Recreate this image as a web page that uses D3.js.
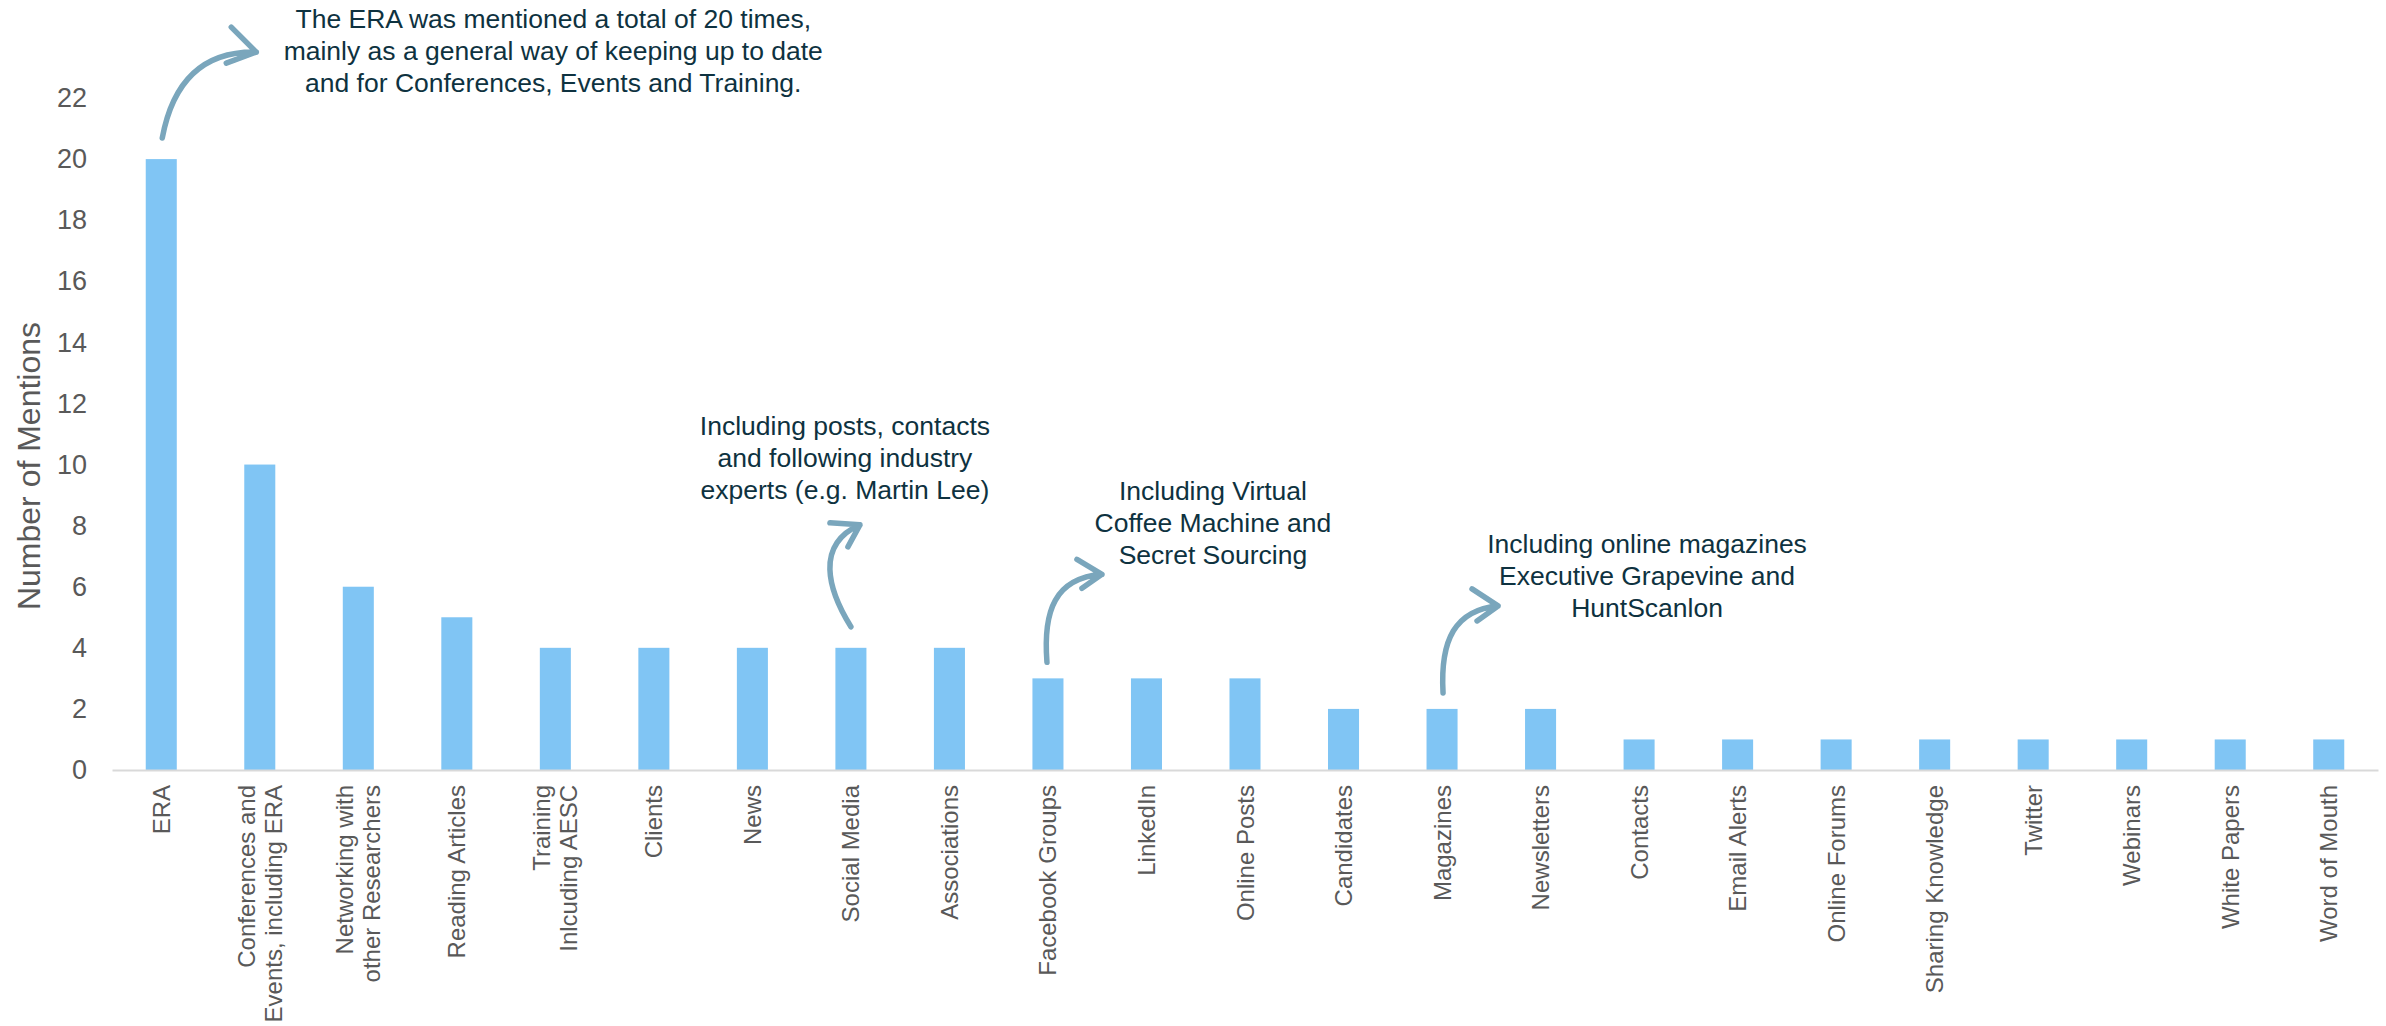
<!DOCTYPE html>
<html>
<head>
<meta charset="utf-8">
<script src="https://cdn.jsdelivr.net/npm/d3@7"></script>
<style>
  html, body { margin: 0; padding: 0; background: #ffffff; }
  svg { display: block; font-family: "Liberation Sans", Arial, sans-serif; }
</style>
</head>
<body>
<svg id="chart" width="2386" height="1026"></svg>
<script>
// Sources of keeping up to date: number of mentions per source
const categories = [
  "ERA",
  "Conferences and\nEvents, including ERA",
  "Networking with\nother Researchers",
  "Reading Articles",
  "Training\nInlcuding AESC",
  "Clients",
  "News",
  "Social Media",
  "Associations",
  "Facebook Groups",
  "LinkedIn",
  "Online Posts",
  "Candidates",
  "Magazines",
  "Newsletters",
  "Contacts",
  "Email Alerts",
  "Online Forums",
  "Sharing Knowledge",
  "Twitter",
  "Webinars",
  "White Papers",
  "Word of Mouth"
];
const mentions = [20, 10, 6, 5, 4, 4, 4, 4, 4, 3, 3, 3, 2, 2, 2, 1, 1, 1, 1, 1, 1, 1, 1];
const yTicks = [0, 2, 4, 6, 8, 10, 12, 14, 16, 18, 20, 22];
const yTitle = "Number of Mentions";

// Callout notes, each tied to one bar
const noteAnchors = ["ERA", "Social Media", "Facebook Groups", "Magazines"];
const noteTexts = [
  ["The ERA was mentioned a total of 20 times,", "mainly as a general way of keeping up to date", "and for Conferences, Events and Training."],
  ["Including posts, contacts", "and following industry", "experts (e.g. Martin Lee)"],
  ["Including Virtual", "Coffee Machine and", "Secret Sourcing"],
  ["Including online magazines", "Executive Grapevine and", "HuntScanlon"]
];

const svg = d3.select("#chart");
const W = 2386, H = 1026;
const m = { left: 112, right: 8, top: 98, bottom: 256 };
const baseY = H - m.bottom; // 770

const x = d3.scaleBand()
  .domain(categories)
  .range([m.left, W - m.right])
  .paddingInner(0.685)
  .paddingOuter(0.3425);

const y = d3.scaleLinear()
  .domain([0, 22])
  .range([baseY, m.top]);

const barColor = "#80c5f4";
const axisText = "#595959";
const noteColor = "#0e3240";
const arrowColor = "#7aa6bc";

// Bars
svg.append("g")
  .selectAll("rect")
  .data(categories)
  .join("rect")
  .attr("x", d => x(d))
  .attr("y", (d, i) => y(mentions[i]))
  .attr("width", x.bandwidth())
  .attr("height", (d, i) => y(0) - y(mentions[i]))
  .attr("fill", barColor);

// Y axis: labels only
const yAxis = svg.append("g")
  .attr("transform", `translate(${m.left - 25},0)`)
  .call(d3.axisLeft(y).tickValues(yTicks).tickSize(0).tickPadding(0));
yAxis.select(".domain").remove();
yAxis.selectAll("text")
  .attr("fill", axisText)
  .attr("font-size", 27)
  .attr("font-family", "'Liberation Sans', Arial, sans-serif");

// Y axis title
svg.append("text")
  .attr("transform", `translate(29,${(y(0) + y(22)) / 2 + 32}) rotate(-90)`)
  .attr("text-anchor", "middle")
  .attr("dominant-baseline", "central")
  .attr("fill", axisText)
  .attr("font-size", 32)
  .text(yTitle);

// X axis: baseline and rotated category labels
const xAxis = svg.append("g")
  .attr("transform", `translate(0,${baseY})`)
  .call(d3.axisBottom(x).tickSize(0).tickSizeOuter(0).tickFormat(""));
xAxis.select(".domain")
  .attr("stroke", "#d9d9d9")
  .attr("stroke-width", 2);

const labelGap = 15;
const lineH = 27;
const xl = svg.append("g");
categories.forEach(c => {
  const lines = c.split("\n");
  const cx = x(c) + x.bandwidth() / 2;
  const t = xl.append("text")
    .attr("transform", `translate(${cx},${baseY + labelGap}) rotate(-90)`)
    .attr("text-anchor", "end")
    .attr("fill", axisText)
    .attr("font-size", 24);
  lines.forEach((ln, k) => {
    t.append("tspan")
      .attr("x", 0)
      .attr("y", (k - (lines.length - 1) / 2) * lineH)
      .attr("dominant-baseline", "central")
      .text(ln);
  });
});

// Note text placement relative to the top of each anchored bar (dx, dy of first baseline)
const noteOffsets = [[392, -131], [-6, -213], [165, -178], [205, -156]];
// Hand-drawn arrow shapes relative to the top centre of each anchored bar:
// start, control 1, control 2, tip, barb A, barb B
const arrowShapes = [
  [[1, -21], [12, -80], [44, -108], [95, -107], [70, -132], [65, -96]],
  [[0, -21], [-23, -58], [-36, -103], [9, -123], [-21, -125], [-3, -101]],
  [[-1, -16], [-5, -68], [7, -100], [54, -104], [29, -119], [34, -90]],
  [[1, -16], [-2, -69], [13, -99], [56, -103], [30, -120], [35, -88]]
];

const notes = svg.append("g");
noteAnchors.forEach((cat, i) => {
  const i0 = categories.indexOf(cat);
  const ax = x(cat) + x.bandwidth() / 2;
  const ay = y(mentions[i0]);
  const P = arrowShapes[i].map(p => [ax + p[0], ay + p[1]]);

  const path = d3.path();
  path.moveTo(P[0][0], P[0][1]);
  path.bezierCurveTo(P[1][0], P[1][1], P[2][0], P[2][1], P[3][0], P[3][1]);
  path.moveTo(P[4][0], P[4][1]);
  path.lineTo(P[3][0], P[3][1]);
  path.lineTo(P[5][0], P[5][1]);

  notes.append("path")
    .attr("d", path.toString())
    .attr("fill", "none")
    .attr("stroke", arrowColor)
    .attr("stroke-width", 5.5)
    .attr("stroke-linecap", "round")
    .attr("stroke-linejoin", "round");

  const t = notes.append("text")
    .attr("text-anchor", "middle")
    .attr("fill", noteColor)
    .attr("font-size", 26.5);
  noteTexts[i].forEach((ln, k) => {
    t.append("tspan")
      .attr("x", ax + noteOffsets[i][0])
      .attr("y", ay + noteOffsets[i][1] + k * 32)
      .text(ln);
  });
});
</script>
</body>
</html>
